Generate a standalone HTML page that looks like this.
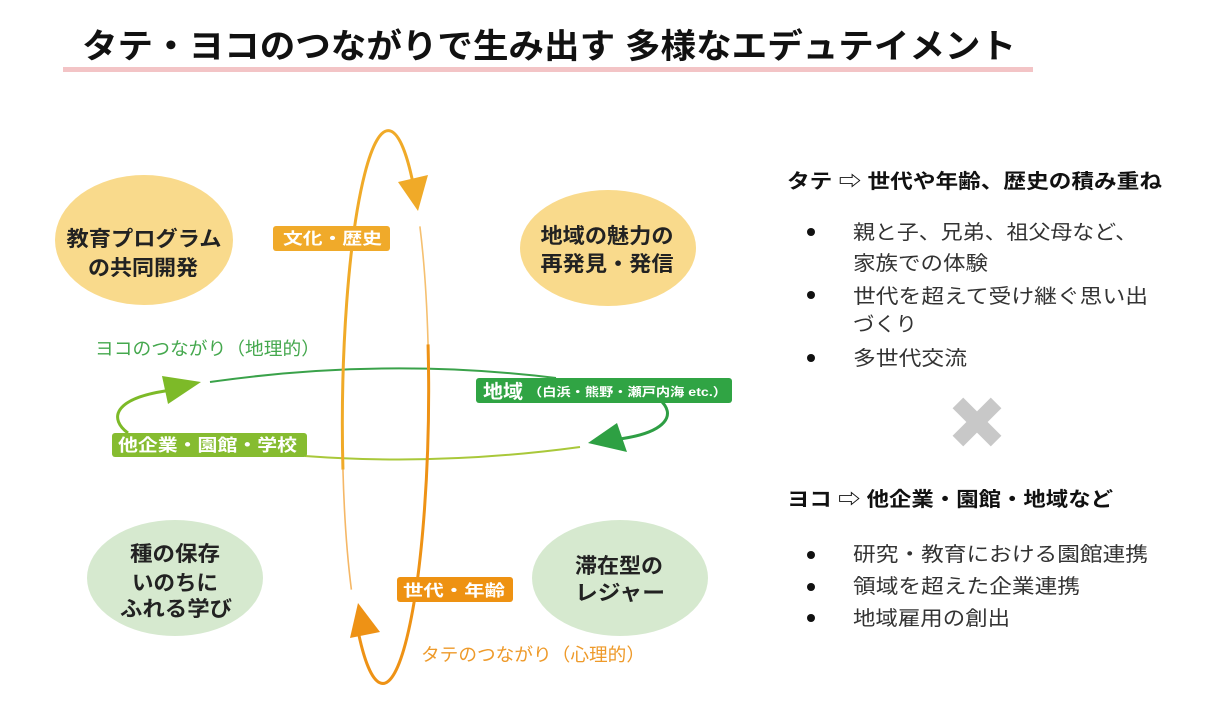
<!DOCTYPE html>
<html><head><meta charset="utf-8">
<style>
html,body{margin:0;padding:0;background:#fff;}
svg{display:block;}
text{font-family:"Liberation Sans","Noto Sans CJK JP",sans-serif;}
</style></head>
<body>
<svg width="1212" height="723" viewBox="0 0 1212 723" xmlns="http://www.w3.org/2000/svg">
  <!-- title -->
  <text x="82" y="58" font-size="34" font-weight="bold" fill="#111" textLength="934" lengthAdjust="spacingAndGlyphs">タテ・ヨコのつながりで生み出す 多様なエデュテイメント</text>
  <rect x="63" y="67" width="970" height="5" fill="#F3C4C6"/>

  <!-- ellipses -->
  <ellipse cx="144" cy="240" rx="89" ry="65" fill="#F9DA8C"/>
  <ellipse cx="608" cy="248" rx="88" ry="58" fill="#F9DA8C"/>
  <ellipse cx="175" cy="578" rx="88" ry="58" fill="#D6E9CF"/>
  <ellipse cx="620" cy="578" rx="88" ry="58" fill="#D6E9CF"/>

  <g font-size="21" font-weight="bold" fill="#222" text-anchor="middle">
    <text x="144" y="246" textLength="155" lengthAdjust="spacingAndGlyphs">教育プログラム</text>
    <text x="143" y="275" textLength="110" lengthAdjust="spacingAndGlyphs">の共同開発</text>
    <text x="607" y="243" textLength="133" lengthAdjust="spacingAndGlyphs">地域の魅力の</text>
    <text x="607" y="271" textLength="133" lengthAdjust="spacingAndGlyphs">再発見・発信</text>
    <text x="175" y="561" textLength="90" lengthAdjust="spacingAndGlyphs">種の保存</text>
    <text x="175" y="590" textLength="86" lengthAdjust="spacingAndGlyphs">いのちに</text>
    <text x="176" y="616" textLength="112" lengthAdjust="spacingAndGlyphs">ふれる学び</text>
    <text x="619" y="573" textLength="88" lengthAdjust="spacingAndGlyphs">滞在型の</text>
    <text x="620" y="600" textLength="90" lengthAdjust="spacingAndGlyphs">レジャー</text>
  </g>

  <!-- green loop -->
  <path d="M210,382 Q385,357 556,378" fill="none" stroke="#3AA24A" stroke-width="2"/>
  <path d="M660,400 C676,414 668,432 620,439" fill="none" stroke="#2E9E44" stroke-width="3"/>
  <polygon points="588,443 617,423 627,452" fill="#2EA043"/>
  <path d="M580,447 Q440,466 305,456" fill="none" stroke="#A9C83A" stroke-width="2"/>
  <path d="M128,433 C110,420 110,398 172,390" fill="none" stroke="#7DBA28" stroke-width="3"/>
  <polygon points="201,382 162,376 168,404" fill="#7DBA28"/>

  <!-- orange loop -->
  <g transform="rotate(0.6 385.5 407)" fill="none">
    <path d="M418,226 A43,276 0 0 1 427.4,470" stroke="#F5C070" stroke-width="1.6"/>
    <path d="M353.3,590 A43,276 0 0 1 343.6,470" stroke="#F5B766" stroke-width="1.6"/>
    <path d="M343.6,470 A43,276 0 0 1 412.1,190" stroke="#F0AA28" stroke-width="3"/>
    <path d="M427.4,344 A43,276 0 0 1 359.7,628" stroke="#EE9215" stroke-width="3"/>
  </g>
  <polygon points="418,211 398,182 428,175" fill="#F0AA28"/>
  <polygon points="358,603 350,638 380,632" fill="#EE9215"/>

  <!-- orange labels -->
  <rect x="273" y="226" width="117" height="25" rx="3" fill="#F0AA2A"/>
  <text x="283" y="244" font-size="16" font-weight="bold" fill="#fff" textLength="99" lengthAdjust="spacingAndGlyphs">文化・歴史</text>
  <rect x="397" y="577" width="116" height="25" rx="3" fill="#EE9212"/>
  <text x="403" y="596" font-size="16" font-weight="bold" fill="#fff" textLength="102" lengthAdjust="spacingAndGlyphs">世代・年齢</text>

  <!-- green labels -->
  <rect x="112" y="433" width="195" height="24" rx="3" fill="#86BC30"/>
  <text x="118" y="451" font-size="17" font-weight="bold" fill="#fff" textLength="179" lengthAdjust="spacingAndGlyphs">他企業・園館・学校</text>
  <rect x="476" y="378" width="256" height="25" rx="3" fill="#30A444"/>
  <text x="483" y="398" font-size="19" font-weight="bold" fill="#fff" textLength="40" lengthAdjust="spacingAndGlyphs">地域</text>
  <text x="528" y="396" font-size="12" font-weight="bold" fill="#fff" textLength="199" lengthAdjust="spacingAndGlyphs">（白浜・熊野・瀬戸内海 etc.）</text>

  <!-- loop captions -->
  <text x="95" y="355" font-size="18" fill="#45A84E" textLength="225" lengthAdjust="spacingAndGlyphs">ヨコのつながり（地理的）</text>
  <text x="421" y="661" font-size="18" fill="#EE9A2A" textLength="224" lengthAdjust="spacingAndGlyphs">タテのつながり（心理的）</text>

  <!-- right column -->
  <text x="787" y="188" font-size="20" font-weight="bold" fill="#111" textLength="375" lengthAdjust="spacingAndGlyphs">タテ ⇨ 世代や年齢、歴史の積み重ね</text>
  <g fill="#111">
    <circle cx="811" cy="232" r="4"/>
    <circle cx="811" cy="295" r="4"/>
    <circle cx="811" cy="358" r="4"/>
    <circle cx="811" cy="555" r="4"/>
    <circle cx="811" cy="587" r="4"/>
    <circle cx="811" cy="618" r="4"/>
  </g>
  <g font-size="20" fill="#333">
    <text x="853" y="239" textLength="284" lengthAdjust="spacingAndGlyphs">親と子、兄弟、祖父母など、</text>
    <text x="853" y="270" textLength="135" lengthAdjust="spacingAndGlyphs">家族での体験</text>
    <text x="853" y="303" textLength="295" lengthAdjust="spacingAndGlyphs">世代を超えて受け継ぐ思い出</text>
    <text x="853" y="331" textLength="64" lengthAdjust="spacingAndGlyphs">づくり</text>
    <text x="853" y="365" textLength="114" lengthAdjust="spacingAndGlyphs">多世代交流</text>
    <text x="853" y="561" textLength="295" lengthAdjust="spacingAndGlyphs">研究・教育における園館連携</text>
    <text x="853" y="593" textLength="227" lengthAdjust="spacingAndGlyphs">領域を超えた企業連携</text>
    <text x="853" y="625" textLength="157" lengthAdjust="spacingAndGlyphs">地域雇用の創出</text>
  </g>

  <!-- X mark -->
  <g transform="translate(977 422)" fill="#C8C8C8">
    <rect x="-27" y="-7.5" width="54" height="15" transform="rotate(45)"/>
    <rect x="-27" y="-7.5" width="54" height="15" transform="rotate(-45)"/>
  </g>

  <text x="787" y="506" font-size="20" font-weight="bold" fill="#111" textLength="326" lengthAdjust="spacingAndGlyphs">ヨコ ⇨ 他企業・園館・地域など</text>
</svg>
</body></html>
